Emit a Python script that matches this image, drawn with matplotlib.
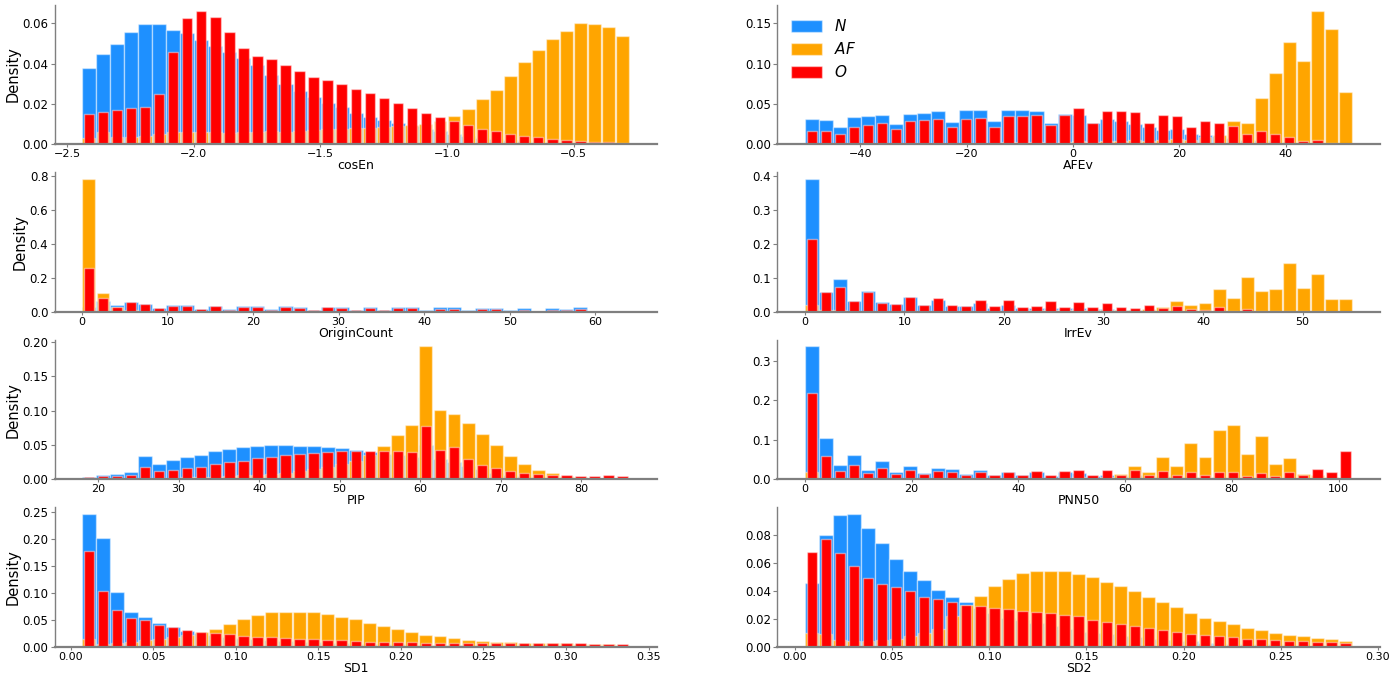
import numpy as np
import matplotlib
matplotlib.use("Agg")
import matplotlib.pyplot as plt
from matplotlib.patches import Patch
from matplotlib.ticker import MultipleLocator

# ---------------- data (density per bin, 39 bins per feature) ----------------
features = ["cosEn", "AFEv", "OriginCount", "IrrEv", "PIP", "PNN50", "SD1", "SD2"]
ranges = {
    "cosEn": (-2.441, -0.28),
    "AFEv": (-50.4, 52.5),
    "OriginCount": (0.0, 64.0),
    "IrrEv": (0.0, 55.0),
    "PIP": (18.0, 86.0),
    "PNN50": (0.0, 102.6),
    "SD1": (0.0068, 0.3385),
    "SD2": (0.0051, 0.2869),
}
classes = ["N", "AF", "O"]

N_cosEn = [0.038, 0.045, 0.050, 0.056, 0.0597, 0.0598, 0.057, 0.0553, 0.052, 0.049, 0.046, 0.043, 0.0395,
           0.0345, 0.030, 0.0265, 0.0235, 0.0205, 0.0183, 0.0158, 0.0138, 0.012, 0.0104, 0.0092, 0.0077,
           0.0065, 0.0052, 0.004, 0.0032, 0.0025, 0.002, 0.0015, 0.0012, 0.001, 0.0008, 0.0006, 0.0005,
           0.0004, 0.0003]
AF_cosEn = [0.003, 0.006, 0.0035, 0.0035, 0.004, 0.005, 0.006, 0.006, 0.006, 0.006, 0.0055, 0.006, 0.006,
            0.0065, 0.006, 0.0065, 0.007, 0.0075, 0.0075, 0.008, 0.008, 0.0085, 0.009, 0.0095, 0.010,
            0.0115, 0.0141, 0.0177, 0.0223, 0.027, 0.0337, 0.0409, 0.047, 0.0523, 0.0565, 0.060, 0.0595,
            0.058, 0.054]
O_cosEn = [0.0153, 0.016, 0.017, 0.0178, 0.0187, 0.025, 0.046, 0.0627, 0.066, 0.063, 0.0557, 0.048, 0.0437,
           0.0423, 0.0395, 0.0362, 0.0333, 0.0318, 0.0298, 0.0277, 0.0255, 0.0230, 0.0207, 0.0182, 0.0155,
           0.0138, 0.0115, 0.0098, 0.0078, 0.0066, 0.0053, 0.0043, 0.0036, 0.0028, 0.0023, 0.0017, 0.0013,
           0.0012, 0.0007]

N_AFEv = [0.032, 0.030, 0.021, 0.034, 0.035, 0.036, 0.025, 0.038, 0.039, 0.041, 0.028, 0.043, 0.043,
          0.029, 0.043, 0.042, 0.041, 0.027, 0.038, 0.036, 0.027, 0.031, 0.029, 0.025, 0.022, 0.018,
          0.019, 0.013, 0.011, 0.010, 0.008, 0.006, 0.005, 0.005, 0.003, 0.002, 0.002, 0.001, 0.001]
AF_AFEv = [0.001, 0.001, 0.001, 0.002, 0.002, 0.002, 0.001, 0.002, 0.002, 0.002, 0.001, 0.002, 0.002,
           0.001, 0.003, 0.003, 0.003, 0.002, 0.003, 0.004, 0.003, 0.004, 0.004, 0.005, 0.004, 0.006,
           0.007, 0.006, 0.009, 0.012, 0.029, 0.027, 0.058, 0.089, 0.127, 0.103, 0.165, 0.143, 0.065]
O_AFEv = [0.016, 0.017, 0.013, 0.022, 0.024, 0.026, 0.019, 0.029, 0.030, 0.031, 0.021, 0.031, 0.033,
          0.022, 0.035, 0.035, 0.036, 0.024, 0.037, 0.045, 0.027, 0.041, 0.041, 0.040, 0.026, 0.037,
          0.035, 0.021, 0.029, 0.027, 0.023, 0.013, 0.017, 0.013, 0.009, 0.004, 0.005, 0.002, 0.001]

N_OriginCount = [0.03, 0.065, 0.04, 0.058, 0.048, 0.022, 0.04, 0.04, 0.018, 0.037, 0.015, 0.035, 0.034,
                 0.014, 0.033, 0.03, 0.013, 0.03, 0.03, 0.012, 0.03, 0.012, 0.028, 0.027, 0.01, 0.026,
                 0.026, 0.009, 0.024, 0.024, 0.01, 0.022, 0.006, 0.02, 0.017, 0.028, 0.0, 0.0, 0.0]
AF_OriginCount = [0.78, 0.11, 0.03, 0.01, 0.008, 0.003, 0.005, 0.005, 0.002, 0.004, 0.002, 0.003, 0.003,
                  0.001, 0.003, 0.002, 0.001, 0.002, 0.002, 0.001, 0.002, 0.001, 0.002, 0.002, 0.001,
                  0.002, 0.002, 0.001, 0.001, 0.001, 0.001, 0.001, 0.0, 0.001, 0.001, 0.001, 0.0005,
                  0.0005, 0.0005]
O_OriginCount = [0.255, 0.082, 0.030, 0.055, 0.045, 0.020, 0.037, 0.036, 0.016, 0.033, 0.012, 0.030,
                 0.028, 0.012, 0.028, 0.025, 0.010, 0.026, 0.024, 0.010, 0.024, 0.010, 0.022, 0.020,
                 0.008, 0.018, 0.018, 0.006, 0.016, 0.015, 0.007, 0.013, 0.003, 0.012, 0.010, 0.014,
                 0.0, 0.0, 0.0]

N_IrrEv = [0.39, 0.059, 0.097, 0.033, 0.06, 0.028, 0.022, 0.044, 0.021, 0.035, 0.018, 0.016, 0.025,
           0.012, 0.02, 0.012, 0.011, 0.01, 0.01, 0.01, 0.009, 0.008, 0.006, 0.005, 0.006, 0.004, 0.004,
           0.003, 0.003, 0.003, 0.002, 0.002, 0.001, 0.001, 0.001, 0.001, 0.001, 0.001, 0.0005]
AF_IrrEv = [0.02, 0.005, 0.005, 0.004, 0.004, 0.004, 0.004, 0.004, 0.004, 0.004, 0.004, 0.004, 0.004,
            0.004, 0.004, 0.004, 0.005, 0.005, 0.005, 0.005, 0.005, 0.005, 0.006, 0.006, 0.007, 0.013,
            0.033, 0.021, 0.025, 0.066, 0.040, 0.103, 0.062, 0.066, 0.142, 0.069, 0.112, 0.038, 0.038]
O_IrrEv = [0.215, 0.057, 0.073, 0.032, 0.057, 0.026, 0.022, 0.044, 0.020, 0.040, 0.020, 0.018, 0.036,
           0.017, 0.035, 0.015, 0.017, 0.032, 0.015, 0.028, 0.014, 0.026, 0.013, 0.011, 0.021, 0.011,
           0.018, 0.007, 0.006, 0.013, 0.004, 0.007, 0.003, 0.002, 0.003, 0.002, 0.002, 0.001, 0.001]

N_PIP = [0.004, 0.006, 0.008, 0.011, 0.034, 0.023, 0.028, 0.032, 0.036, 0.041, 0.044, 0.047, 0.049,
         0.050, 0.050, 0.049, 0.048, 0.047, 0.045, 0.042, 0.040, 0.037, 0.035, 0.032, 0.050, 0.030,
         0.025, 0.020, 0.015, 0.010, 0.007, 0.005, 0.003, 0.002, 0.001, 0.001, 0.0005, 0.0005, 0.0005]
AF_PIP = [0.0005, 0.001, 0.001, 0.001, 0.002, 0.002, 0.002, 0.003, 0.003, 0.004, 0.005, 0.006, 0.007,
          0.008, 0.01, 0.012, 0.015, 0.018, 0.022, 0.027, 0.035, 0.049, 0.064, 0.079, 0.193, 0.101,
          0.095, 0.082, 0.066, 0.050, 0.034, 0.022, 0.013, 0.009, 0.005, 0.003, 0.002, 0.001, 0.001]
O_PIP = [0.003, 0.005, 0.005, 0.007, 0.018, 0.012, 0.014, 0.016, 0.018, 0.022, 0.025, 0.027, 0.031,
         0.033, 0.036, 0.037, 0.038, 0.040, 0.041, 0.041, 0.041, 0.041, 0.041, 0.040, 0.077, 0.043,
         0.047, 0.029, 0.021, 0.016, 0.012, 0.009, 0.008, 0.007, 0.006, 0.005, 0.005, 0.006, 0.005]

N_PNN50 = [0.337, 0.106, 0.036, 0.063, 0.024, 0.046, 0.019, 0.035, 0.016, 0.03, 0.026, 0.013, 0.023,
           0.011, 0.02, 0.011, 0.02, 0.009, 0.018, 0.016, 0.008, 0.012, 0.009, 0.01, 0.006, 0.008,
           0.005, 0.006, 0.004, 0.005, 0.004, 0.003, 0.003, 0.002, 0.003, 0.002, 0.002, 0.001, 0.002]
AF_PNN50 = [0.018, 0.003, 0.002, 0.003, 0.002, 0.003, 0.002, 0.003, 0.002, 0.003, 0.003, 0.002, 0.003,
            0.002, 0.003, 0.003, 0.004, 0.003, 0.004, 0.005, 0.004, 0.006, 0.014, 0.034, 0.02, 0.057,
            0.035, 0.092, 0.056, 0.126, 0.137, 0.064, 0.109, 0.04, 0.053, 0.014, 0.01, 0.006, 0.004]
O_PNN50 = [0.22, 0.06, 0.022, 0.037, 0.015, 0.029, 0.014, 0.024, 0.013, 0.022, 0.02, 0.012, 0.02,
           0.011, 0.02, 0.01, 0.022, 0.01, 0.022, 0.023, 0.011, 0.023, 0.012, 0.024, 0.012, 0.022,
           0.011, 0.02, 0.012, 0.02, 0.018, 0.008, 0.017, 0.008, 0.02, 0.012, 0.027, 0.018, 0.071]

N_SD1 = [0.246, 0.201, 0.102, 0.065, 0.055, 0.044, 0.036, 0.030, 0.026, 0.022, 0.019, 0.016, 0.014,
         0.012, 0.011, 0.010, 0.009, 0.008, 0.007, 0.006, 0.006, 0.005, 0.005, 0.004, 0.004, 0.004,
         0.003, 0.003, 0.003, 0.003, 0.002, 0.002, 0.002, 0.002, 0.002, 0.002, 0.001, 0.001, 0.001]
AF_SD1 = [0.015, 0.006, 0.008, 0.010, 0.012, 0.014, 0.018, 0.022, 0.028, 0.033, 0.043, 0.051, 0.059,
          0.064, 0.065, 0.065, 0.064, 0.061, 0.056, 0.051, 0.045, 0.038, 0.033, 0.028, 0.023, 0.020,
          0.016, 0.013, 0.011, 0.010, 0.009, 0.008, 0.008, 0.007, 0.007, 0.006, 0.005, 0.005, 0.004]
O_SD1 = [0.177, 0.104, 0.069, 0.054, 0.049, 0.041, 0.036, 0.031, 0.028, 0.026, 0.024, 0.021, 0.019,
         0.018, 0.016, 0.015, 0.014, 0.012, 0.012, 0.011, 0.010, 0.010, 0.009, 0.009, 0.008, 0.008,
         0.007, 0.007, 0.007, 0.007, 0.007, 0.007, 0.007, 0.007, 0.007, 0.007, 0.006, 0.006, 0.006]

N_SD2 = [0.046, 0.080, 0.094, 0.095, 0.085, 0.074, 0.063, 0.054, 0.048, 0.041, 0.036, 0.032, 0.028,
         0.024, 0.021, 0.019, 0.017, 0.015, 0.013, 0.011, 0.010, 0.009, 0.008, 0.007, 0.006, 0.005,
         0.004, 0.004, 0.003, 0.003, 0.002, 0.002, 0.002, 0.002, 0.001, 0.001, 0.001, 0.001, 0.001]
AF_SD2 = [0.01, 0.009, 0.005, 0.004, 0.004, 0.005, 0.006, 0.008, 0.01, 0.013, 0.022, 0.030, 0.0365,
          0.0435, 0.0485, 0.0527, 0.054, 0.0545, 0.0545, 0.052, 0.050, 0.0465, 0.0437, 0.040, 0.036,
          0.032, 0.0285, 0.024, 0.021, 0.0187, 0.0165, 0.0137, 0.012, 0.010, 0.0088, 0.0075, 0.0065,
          0.0055, 0.0045]
O_SD2 = [0.068, 0.077, 0.067, 0.058, 0.049, 0.045, 0.043, 0.040, 0.036, 0.034, 0.032, 0.030, 0.029,
         0.028, 0.027, 0.026, 0.025, 0.024, 0.023, 0.022, 0.019, 0.0175, 0.0165, 0.0148, 0.0133,
         0.012, 0.011, 0.0095, 0.0083, 0.0076, 0.0068, 0.006, 0.0055, 0.005, 0.0045, 0.004, 0.0037,
         0.0033, 0.0028]

series = {
    "cosEn": (N_cosEn, AF_cosEn, O_cosEn),
    "AFEv": (N_AFEv, AF_AFEv, O_AFEv),
    "OriginCount": (N_OriginCount, AF_OriginCount, O_OriginCount),
    "IrrEv": (N_IrrEv, AF_IrrEv, O_IrrEv),
    "PIP": (N_PIP, AF_PIP, O_PIP),
    "PNN50": (N_PNN50, AF_PNN50, O_PNN50),
    "SD1": (N_SD1, AF_SD1, O_SD1),
    "SD2": (N_SD2, AF_SD2, O_SD2),
}
y_steps = {"cosEn": 0.02, "AFEv": 0.05, "OriginCount": 0.2, "IrrEv": 0.1,
           "PIP": 0.05, "PNN50": 0.1, "SD1": 0.05, "SD2": 0.02}

# ---------------- style ----------------
colors = {"N": "#1E90FF", "AF": "#FFA500", "O": "#FF0000"}
width_frac = {"N": 1.0, "AF": 0.92, "O": 0.74}
edge = (1, 1, 1, 0.45)
spine_col = "#7f7f7f"

plt.rcParams["font.family"] = ["DejaVu Sans"]

fig, axes = plt.subplots(4, 2, figsize=(13.98, 6.76), dpi=100)
fig.subplots_adjust(left=0.039, right=0.987, top=0.993, bottom=0.043, hspace=0.2, wspace=0.2)

for i, feat in enumerate(features):
    ax = axes[i // 2, i % 2]
    ax.set_facecolor("none")
    lo, hi = ranges[feat]
    vals = series[feat]
    nb = len(vals[0])
    edges = np.linspace(lo, hi, nb + 1)
    centers = (edges[:-1] + edges[1:]) / 2
    bw = edges[1] - edges[0]
    for cls, v in zip(classes, vals):
        ax.bar(centers, v, width=bw * width_frac[cls], color=colors[cls],
               edgecolor=edge, linewidth=1.0, label=cls)
    ax.yaxis.set_major_locator(MultipleLocator(y_steps[feat]))
    ax.set_xlabel(feat, fontsize=9, labelpad=0)
    ax.xaxis.label.set_zorder(10)
    if i % 2 == 0:
        ax.set_ylabel("Density", fontsize=10.5, labelpad=1.5)
    ax.tick_params(axis="x", labelsize=8, length=2.5, width=0.8, color=spine_col, pad=1)
    ax.tick_params(axis="y", labelsize=8.5, length=3, width=0.8, color=spine_col, pad=1.5)
    for s in ("top", "right"):
        ax.spines[s].set_visible(False)
    ax.spines["left"].set_color(spine_col)
    ax.spines["left"].set_linewidth(1.0)
    ax.spines["bottom"].set_color(spine_col)
    ax.spines["bottom"].set_linewidth(1.6)

leg_ax = axes[0, 1]
handles = [Patch(facecolor=colors[c], edgecolor=edge, linewidth=1.0) for c in classes]
leg_ax.legend(handles, [rf"${c}$" for c in classes], loc="upper left", frameon=False,
              fontsize=11, handlelength=2.0, handleheight=0.8, labelspacing=0.45)

fig.savefig("out.png", dpi=100)
